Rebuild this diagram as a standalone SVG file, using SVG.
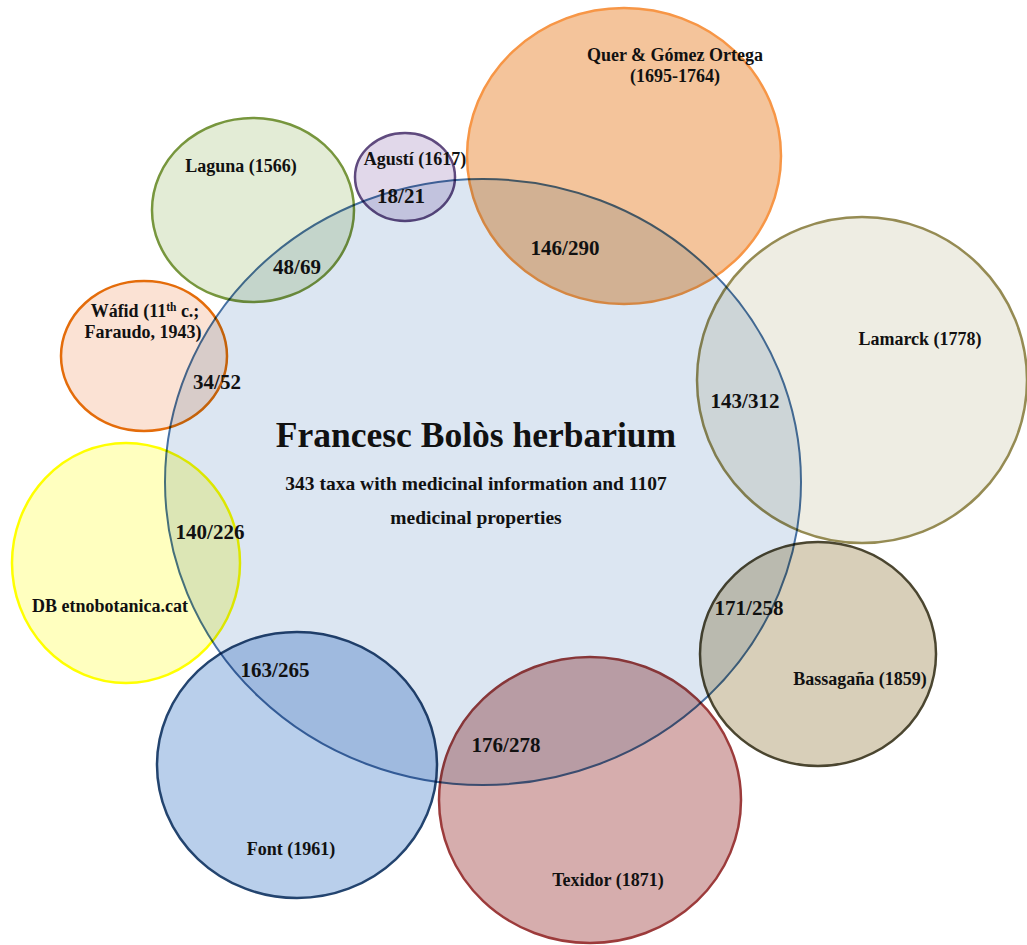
<svg xmlns="http://www.w3.org/2000/svg" width="1027" height="945" viewBox="0 0 1027 945">
<style>
  .set { mix-blend-mode: multiply; stroke-width: 2.5; }
  .lbl { font-family: "Liberation Serif", "Times New Roman", serif; font-weight: bold; fill: #111; text-anchor: middle; }
  .name { font-size: 18px; }
  .num { font-size: 21px; }
</style>
<rect x="0" y="0" width="1027" height="945" fill="#ffffff"/>
<g style="isolation:isolate">
  <g id="bolos">
    <ellipse cx="483" cy="482" rx="318" ry="303" fill="#dce6f2" stroke="#4670a3" stroke-width="2"/>
  </g>
  <g id="laguna">
    <ellipse class="set" cx="253" cy="210" rx="101" ry="92" fill="#e3ecd6" stroke="#77963d"/>
  </g>
  <g id="agusti">
    <ellipse class="set" cx="405" cy="177" rx="50" ry="44" fill="#e1d8ea" stroke="#5f4a7e"/>
  </g>
  <g id="quer">
    <ellipse class="set" cx="624" cy="156" rx="157" ry="148" fill="#f4c49b" stroke="#f79646"/>
  </g>
  <g id="lamarck">
    <ellipse class="set" cx="862" cy="380" rx="165" ry="163" fill="#eeede3" stroke="#958b53"/>
  </g>
  <g id="wafid">
    <ellipse class="set" cx="144" cy="356" rx="83" ry="75" fill="#fbe2d4" stroke="#e46c0a"/>
  </g>
  <g id="db">
    <ellipse class="set" cx="126" cy="563" rx="114" ry="120" fill="#ffffbf" stroke="#ffff00"/>
  </g>
  <g id="font">
    <ellipse class="set" cx="297" cy="765" rx="140" ry="133" fill="#b9cfeb" stroke="#23446f"/>
  </g>
  <g id="texidor">
    <ellipse class="set" cx="590" cy="800" rx="151" ry="143" fill="#d6adad" stroke="#9c3b3b"/>
  </g>
  <g id="bassagana">
    <ellipse class="set" cx="818" cy="654" rx="118" ry="112" fill="#d8cfb9" stroke="#4b4630"/>
  </g>
</g>
<g id="connectors"></g>
<g id="labels" class="lbl">
  <text x="476" y="447" style="font-size:35.5px">Francesc Bolòs herbarium</text>
  <text x="476" y="490" style="font-size:19.5px">343 taxa with medicinal information and 1107</text>
  <text x="476" y="524" style="font-size:19.5px">medicinal properties</text>

  <text class="name" x="675" y="61">Quer &amp; Gómez Ortega</text>
  <text class="name" x="675" y="82">(1695-1764)</text>
  <text class="num" x="565" y="255">146/290</text>

  <text class="name" x="415" y="165">Agustí (1617)</text>
  <text class="num" x="401" y="203">18/21</text>

  <text class="name" x="241" y="172">Laguna (1566)</text>
  <text class="num" x="297" y="274">48/69</text>

  <text class="name" x="145" y="317">Wáfid  (11<tspan dy="-6" style="font-size:11.5px">th</tspan><tspan dy="6"> c.;</tspan></text>
  <text class="name" x="143" y="338">Faraudo, 1943)</text>
  <text class="num" x="217" y="389">34/52</text>

  <text class="name" x="920" y="345">Lamarck (1778)</text>
  <text class="num" x="745" y="408">143/312</text>

  <text class="num" x="210" y="539">140/226</text>
  <text class="name" x="110" y="612">DB etnobotanica.cat</text>

  <text class="num" x="749" y="615">171/258</text>
  <text class="name" x="860" y="685">Bassagaña (1859)</text>

  <text class="num" x="275" y="677">163/265</text>
  <text class="name" x="291" y="855">Font (1961)</text>

  <text class="num" x="506" y="752">176/278</text>
  <text class="name" x="608" y="886">Texidor  (1871)</text>
</g>
</svg>
